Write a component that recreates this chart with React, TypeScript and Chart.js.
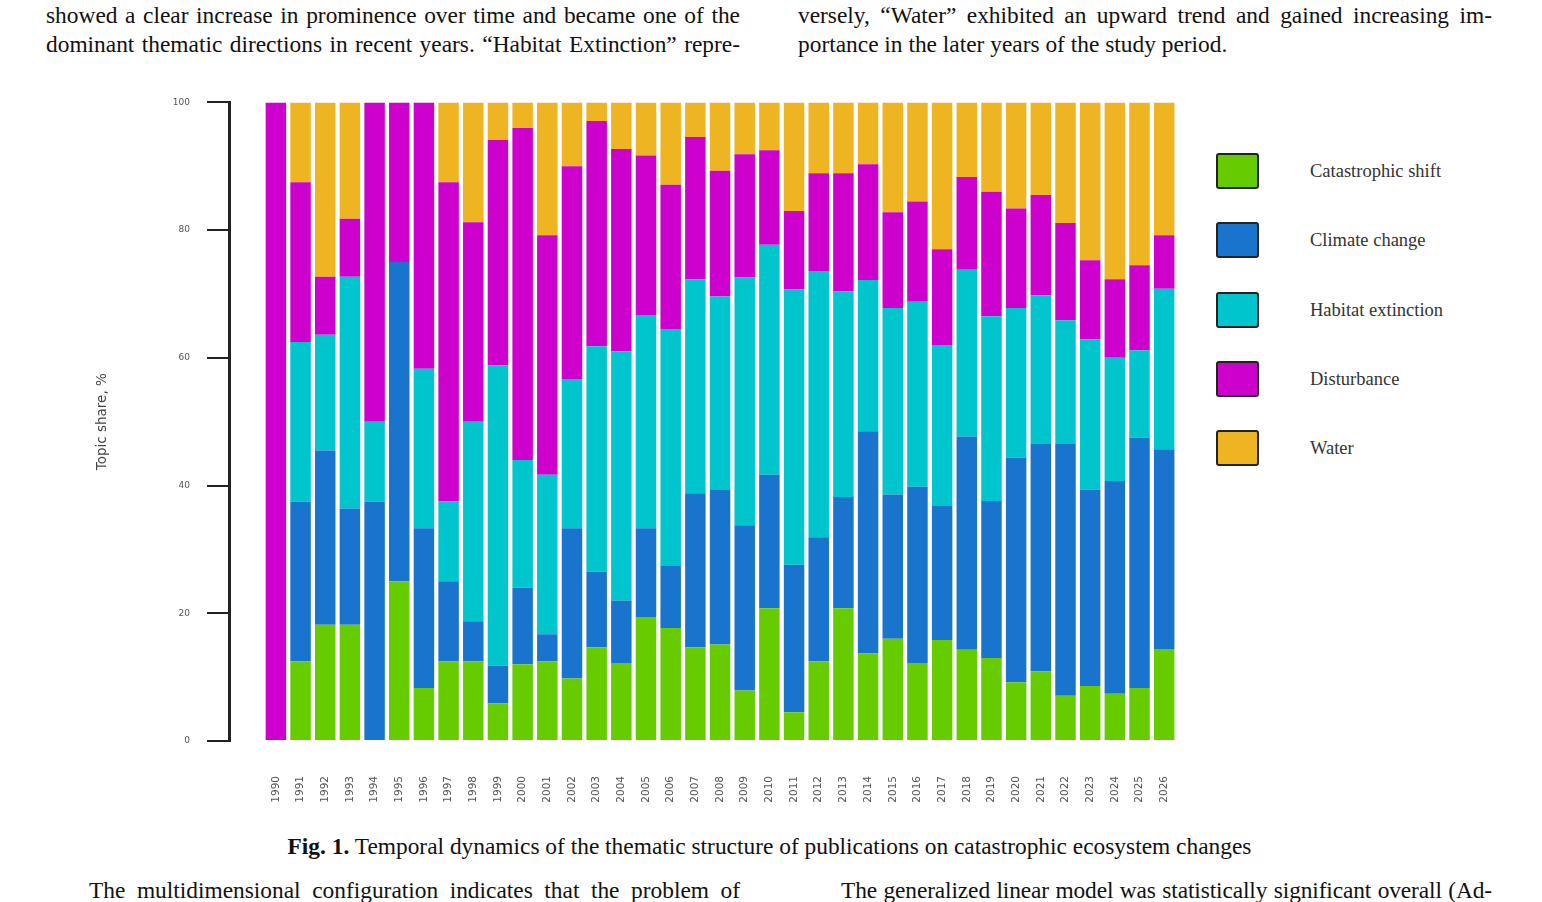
import React, { useEffect, useRef } from "react";
import { Chart, registerables } from "chart.js";

Chart.register(...registerables);

// Publication years on the x axis
const years = [
  1990, 1991, 1992, 1993, 1994, 1995, 1996, 1997, 1998, 1999,
  2000, 2001, 2002, 2003, 2004, 2005, 2006, 2007, 2008, 2009,
  2010, 2011, 2012, 2013, 2014, 2015, 2016, 2017, 2018, 2019,
  2020, 2021, 2022, 2023, 2024, 2025, 2026,
];

// Topic shares per year, %
const catastrophicShift = [
  0, 12.5, 18.2, 18.2, 0, 25, 8.3, 12.5, 12.5, 5.9,
  12, 12.5, 9.8, 14.7, 12.2, 19.4, 17.7, 14.7, 15.1, 7.9,
  20.8, 4.5, 12.5, 20.8, 13.7, 16.0, 12.2, 15.8, 14.3, 13.0,
  9.2, 10.9, 7.1, 8.6, 7.4, 8.3, 14.4,
];
const climateChange = [
  0, 25, 27.3, 18.2, 37.5, 50, 25, 12.5, 6.25, 5.9,
  12, 4.2, 23.5, 11.8, 9.8, 13.9, 9.7, 24.1, 24.2, 25.9,
  20.9, 23.1, 19.4, 17.4, 34.8, 22.6, 27.6, 21.0, 33.4, 24.6,
  35.2, 35.6, 39.4, 30.8, 33.3, 39.2, 31.3,
];
const habitatExtinction = [
  0, 25, 18.1, 36.3, 12.5, 0, 25, 12.5, 31.25, 47.0,
  20, 25, 23.4, 35.3, 39.0, 33.4, 37.1, 33.5, 30.3, 38.8,
  36.0, 43.1, 41.7, 32.2, 23.7, 29.2, 29.0, 25.2, 26.1, 28.9,
  23.4, 23.3, 19.4, 23.5, 19.3, 13.7, 25.1,
];
const disturbance = [
  100, 25, 9.1, 9.1, 50, 25, 41.7, 50, 31.25, 35.3,
  52, 37.5, 33.3, 35.3, 31.7, 25.0, 22.6, 22.3, 19.7, 19.3,
  14.8, 12.3, 15.3, 18.5, 18.1, 15.0, 15.7, 15.0, 14.5, 19.5,
  15.6, 15.7, 15.2, 12.4, 12.3, 13.3, 8.4,
];
const water = [
  0, 12.5, 27.3, 18.2, 0, 0, 0, 12.5, 18.75, 5.9,
  4, 20.8, 10.0, 2.9, 7.3, 8.3, 12.9, 5.4, 10.7, 8.1,
  7.5, 17.0, 11.1, 11.1, 9.7, 17.2, 15.5, 23.0, 11.7, 14.0,
  16.6, 14.5, 18.9, 24.7, 27.7, 25.5, 20.8,
];

const seriesNames = [
  "Catastrophic shift",
  "Climate change",
  "Habitat extinction",
  "Disturbance",
  "Water",
];
const seriesValues = [catastrophicShift, climateChange, habitatExtinction, disturbance, water];
const seriesColors = ["#66CC00", "#1874CD", "#00C5CD", "#CD00CD", "#EEB422"];

const yAxisTitle = "Topic share, %";
const SERIF = "'Liberation Serif', 'Times New Roman', serif";
const SANS = "'DejaVu Sans', sans-serif";

function TextLine({ text, left, top, width, justify = true, spacing = 0 }: any) {
  return (
    <div
      style={{
        position: "absolute",
        left,
        top,
        width,
        fontFamily: SERIF,
        fontSize: 23.4,
        lineHeight: "29px",
        letterSpacing: spacing,
        color: "#111",
        whiteSpace: "nowrap",
        textAlign: justify ? "justify" : "left",
        textAlignLast: justify ? "justify" : "left",
      }}
    >
      {text}
    </div>
  );
}

function StackedChart() {
  const ref = useRef<HTMLCanvasElement | null>(null);

  useEffect(() => {
    if (!ref.current) return;
    const chart = new Chart(ref.current, {
      type: "bar",
      data: {
        datasets: seriesNames.map((name, i) => ({
          label: name,
          data: years.map((y, j) => ({ x: y, y: seriesValues[i][j] })),
          backgroundColor: seriesColors[i],
          borderWidth: 0,
          categoryPercentage: 1,
          barPercentage: 0.83,
        })),
      },
      options: {
        animation: false,
        responsive: false,
        layout: { padding: { left: 94, top: 21, right: 11, bottom: 0 } },
        plugins: {
          legend: { display: false },
          tooltip: { enabled: false },
        },
        scales: {
          x: {
            type: "linear",
            min: 1988.1,
            max: 2026.6,
            stacked: true,
            offset: false,
            grid: { display: false, drawTicks: false },
            border: { display: false },
            afterBuildTicks: (s: any) => {
              s.ticks = years.map((v) => ({ value: v }));
            },
            afterFit: (s: any) => {
              s.height = 70;
              s.paddingLeft = 0;
              s.paddingRight = 0;
            },
            ticks: {
              autoSkip: false,
              minRotation: 90,
              maxRotation: 90,
              padding: 35,
              color: "#555",
              font: { family: SANS, size: 10.5 },
              callback: (v: any) => String(v),
            },
          },
          y: {
            min: 0,
            max: 100,
            stacked: true,
            afterFit: (s: any) => {
              s.width = 135;
            },
            ticks: {
              stepSize: 20,
              padding: 17,
              color: "#555",
              font: { family: SANS, size: 9 },
            },
            grid: {
              drawOnChartArea: false,
              drawTicks: true,
              tickLength: 22,
              color: "#222",
              lineWidth: 2,
            },
            border: { display: true, color: "#222", width: 3 },
            title: {
              display: true,
              text: yAxisTitle,
              color: "#444",
              font: { family: SANS, size: 13.5 },
              padding: { top: 0, bottom: 0 },
            },
          },
        },
      } as any,
    });
    return () => chart.destroy();
  }, []);

  return (
    <canvas
      ref={ref}
      width={1190}
      height={731}
      style={{ position: "absolute", left: 0, top: 80, width: 1190, height: 731 }}
    />
  );
}

function Legend() {
  return (
    <>
      {seriesNames.map((name, i) => (
        <div key={name}>
          <div
            style={{
              position: "absolute",
              left: 1216,
              top: 153 + i * 69.3,
              width: 39,
              height: 32,
              background: seriesColors[i],
              border: "2px solid #222",
              borderRadius: 3,
            }}
          />
          <div
            style={{
              position: "absolute",
              left: 1310,
              top: 153 + i * 69.3,
              height: 36,
              lineHeight: "36px",
              fontFamily: SERIF,
              fontSize: 18.5,
              color: "#333",
              whiteSpace: "nowrap",
            }}
          >
            {name}
          </div>
        </div>
      ))}
    </>
  );
}

export default function App() {
  return (
    <div
      style={{
        position: "absolute",
        left: 0,
        top: 0,
        width: 1542,
        height: 902,
        overflow: "hidden",
        background: "#fff",
      }}
    >
      <TextLine left={46} top={1} width={694} text="showed a clear increase in prominence over time and became one of the" />
      <TextLine left={46} top={30} width={694} text="dominant thematic directions in recent years. “Habitat Extinction” repre-" />
      <TextLine left={798} top={1} width={694} text="versely, “Water” exhibited an upward trend and gained increasing im-" />
      <TextLine left={798} top={30} width={694} justify={false} text="portance in the later years of the study period." />

      <StackedChart />
      <Legend />

      <div
        style={{
          position: "absolute",
          left: 0,
          top: 832,
          width: 1539,
          textAlign: "center",
          fontFamily: SERIF,
          fontSize: 23.4,
          lineHeight: "29px",
          color: "#111",
          whiteSpace: "nowrap",
        }}
      >
        <b>Fig. 1.</b> Temporal dynamics of the thematic structure of publications on catastrophic ecosystem changes
      </div>

      <TextLine left={89} top={876} width={651} text="The multidimensional configuration indicates that the problem of" />
      <TextLine left={841} top={876} width={651} spacing={-0.12} text="The generalized linear model was statistically significant overall (Ad-" />
    </div>
  );
}
